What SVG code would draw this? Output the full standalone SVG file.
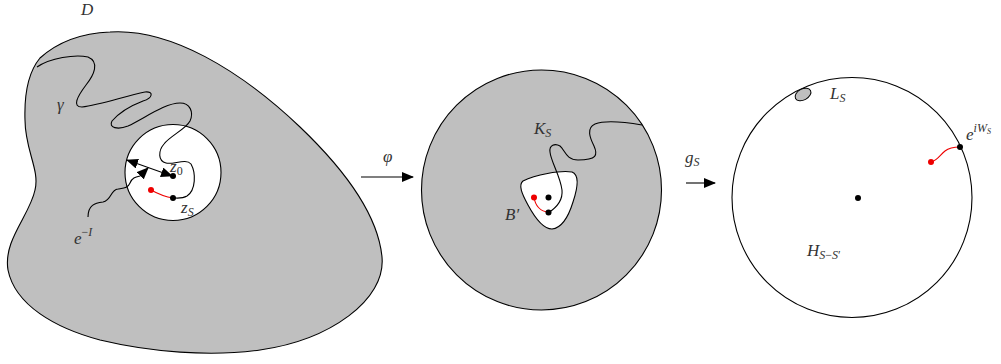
<svg xmlns="http://www.w3.org/2000/svg" width="1001" height="364" viewBox="0 0 1001 364">
<style>
.reg{fill:#bfbfbf;stroke:#000;stroke-width:1.1}
.hole{fill:#fff;stroke:#000;stroke-width:1.1}
.ln{fill:none;stroke:#000;stroke-width:1.1}
.red{fill:none;stroke:#e00;stroke-width:1.1}
.t{font-family:"Liberation Serif",serif;font-style:italic;font-size:17px;fill:#333}
.s{font-size:12px}
.u{font-style:normal}
</style>
<defs>
<marker id="ah" viewBox="0 0 12 10" refX="11" refY="5" markerWidth="12" markerHeight="10" markerUnits="userSpaceOnUse" orient="auto-start-reverse">
<path d="M0,0 L12,5 L0,10 Z" fill="#000"/>
</marker>
</defs>

<g id="domainD">
<path class="reg" d="M110,32 C170,28 240,70 300,127 C345,170 378,215 382,257 C386,300 330,340 260,350 C210,357 150,352 100,340 C55,328 15,305 8,270 C3,240 30,215 35,190 C40,170 25,150 25,120 C24,90 30,70 40,58 C60,40 85,33 110,32 Z"/>
<circle class="hole" cx="173" cy="172.5" r="48"/>
<path class="ln" d="M37,67 C50,58 75,54 88,57 C100,62 94,75 86,85 C77,97 72,107 82,107 C100,105 125,96 145,92 C154,91 153,98 143,101 C130,106 118,114 112,121 C108,128 118,130 128,126 C145,118 165,103 180,103 C190,103 194,112 190,121 C186,129 170,136 164,144 C158,151 158,161 166,163 C173,165 186,158 191,164 C196,173 196,190 187,196 C182,199 177,198 173,198"/>
<path class="ln" d="M88,217 C88,205 95,203 103,202 C112,200 110,190 118,189 C124,188 128,188 130,183 C132,178 135,177 140,176 L148,168" marker-end="url(#ah)"/>
<path class="ln" d="M127,160 L172,176" marker-start="url(#ah)" marker-end="url(#ah)"/>
<path class="red" d="M151,190 C160,195 166,197 173,198"/>
<circle cx="173" cy="176" r="3" fill="#000"/>
<circle cx="173" cy="198" r="3" fill="#000"/>
<circle cx="151" cy="190" r="3" fill="#e00"/>
<text class="t" x="81" y="15">D</text>
<text class="t" x="57" y="110">γ</text>
<text class="t" x="170" y="172">z<tspan class="s u" dy="3">0</tspan></text>
<text class="t" x="181" y="213">z<tspan class="s" dy="3">S</tspan></text>
<text class="t" x="74" y="244">e<tspan class="s" dy="-8"><tspan class="u">−</tspan>I</tspan></text>
</g>

<g id="diskMiddle">
<circle class="reg" cx="541.5" cy="190" r="120"/>
<path class="hole" d="M523,181 C535,175 560,170 572,172 C580,175 577,190 573,202 C569,215 562,228 552,229 C543,229 535,218 528,205 C522,194 518,185 523,181 Z"/>
<path class="ln" d="M642,125 C625,122 605,120 595,124 C586,128 590,138 594,146 C598,155 597,160 578,160 C566,160 565,150 560,146 C555,143 549,145 550,152 C551,162 560,175 562,190 C563,200 556,208 548,213"/>
<path class="red" d="M534,197 C535,205 540,212 549,212"/>
<circle cx="548.5" cy="197.5" r="3" fill="#000"/>
<circle cx="548.5" cy="212.5" r="3" fill="#000"/>
<circle cx="534" cy="197.5" r="3" fill="#e00"/>
<text class="t" x="534" y="134">K<tspan class="s" dy="3">S</tspan></text>
<text class="t" x="505" y="220">B<tspan class="u" dx="1">′</tspan></text>
</g>

<g id="diskRight">
<circle class="hole" cx="852" cy="197.5" r="120"/>
<ellipse cx="803" cy="94.5" rx="8.5" ry="5.5" transform="rotate(-28 803 94.5)" fill="#bfbfbf" stroke="#000" stroke-width="1"/>
<path class="red" d="M931,162 C937,161 940,155 945,151 C950,147 955,147 960,147"/>
<circle cx="858" cy="198" r="3" fill="#000"/>
<circle cx="960" cy="147" r="3" fill="#000"/>
<circle cx="931" cy="162" r="3" fill="#e00"/>
<text class="t" x="830" y="99">L<tspan class="s" dy="3">S</tspan></text>
<text class="t" x="966" y="140">e<tspan class="s" dy="-8">iW</tspan><tspan style="font-size:8px" dy="2">S</tspan></text>
<text class="t" x="807" y="256">H<tspan class="s" dy="3">S<tspan class="u">−</tspan>S<tspan class="u">′</tspan></tspan></text>
</g>

<g id="connectors">
<path class="ln" d="M361,177 L413,177" marker-end="url(#ah)"/>
<text class="t" x="383" y="162">φ</text>
<path class="ln" d="M686,183 L715,183" marker-end="url(#ah)"/>
<text class="t" x="685" y="163">g<tspan class="s" dy="3">S</tspan></text>
</g>
</svg>
